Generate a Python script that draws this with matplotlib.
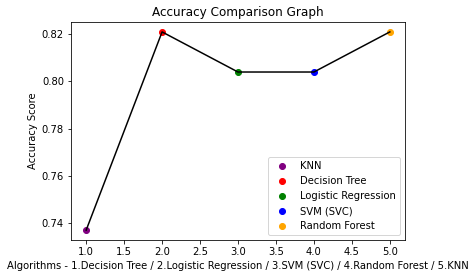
import matplotlib
matplotlib.use('Agg')
import matplotlib.pyplot as plt

algo_ids = [1, 2, 3, 4, 5]
scores = [0.737, 0.821, 0.804, 0.804, 0.821]
names = ['KNN', 'Decision Tree', 'Logistic Regression', 'SVM (SVC)', 'Random Forest']
colors = ['purple', 'red', 'green', 'blue', 'orange']

fig = plt.figure(figsize=(476 / 72, 278 / 72), dpi=72)
ax = fig.add_axes([71 / 476, 38 / 278, 334 / 476, 218 / 278])

for i in range(len(algo_ids)):
    ax.scatter(algo_ids[i], scores[i], color=colors[i], label=names[i])
ax.plot(algo_ids, scores, color='black')

ax.set_title('Accuracy Comparison Graph')
ax.set_xlabel('Algorithms - 1.Decision Tree / 2.Logistic Regression / 3.SVM (SVC) / 4.Random Forest / 5.KNN')
ax.set_ylabel('Accuracy Score')
ax.legend(loc='lower right')

fig.savefig('out.png', dpi=72)
